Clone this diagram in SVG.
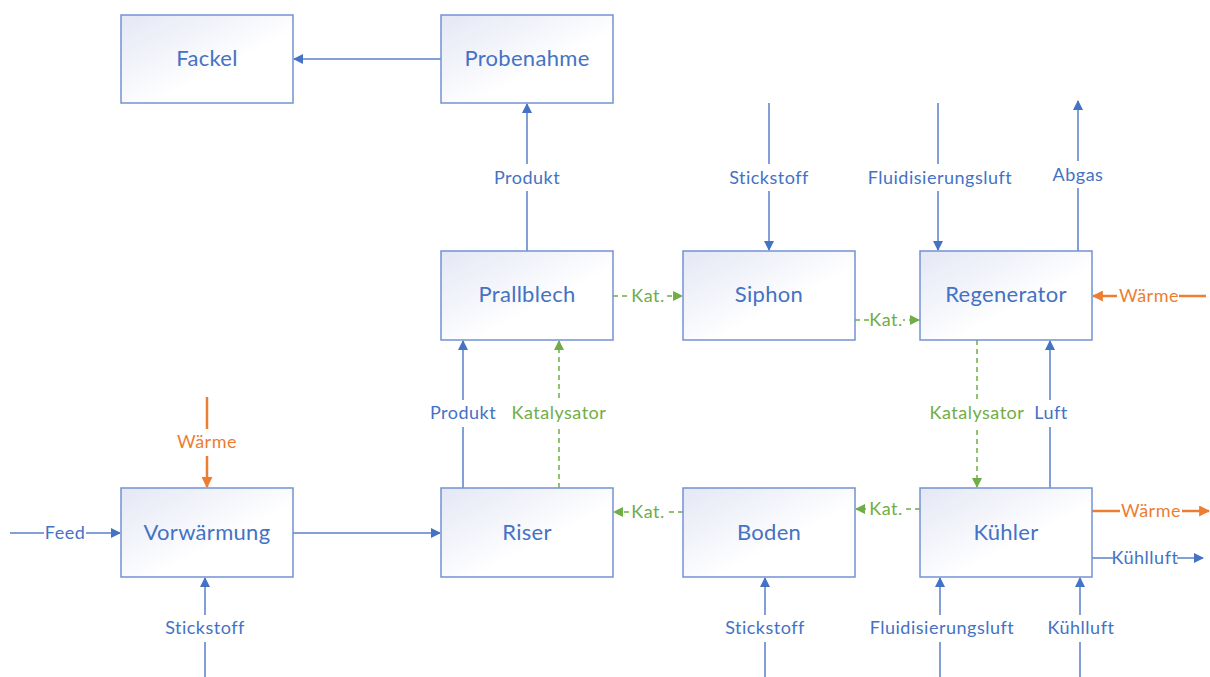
<svg xmlns="http://www.w3.org/2000/svg" width="1210" height="677" viewBox="0 0 1210 677">
  <defs>
    <linearGradient id="boxFill" x1="0" y1="0" x2="1" y2="1">
      <stop offset="0" stop-color="#e4e7f5"/>
      <stop offset="0.6" stop-color="#ffffff"/>
      <stop offset="1" stop-color="#ffffff"/>
    </linearGradient>
    <marker id="arrBlue" viewBox="0 0 10 10" refX="9" refY="5" markerWidth="10" markerHeight="10" markerUnits="userSpaceOnUse" orient="auto">
      <path d="M0,0 L10,5 L0,10 z" fill="#4472c4"/>
    </marker>
    <marker id="arrGreen" viewBox="0 0 10 10" refX="9" refY="5" markerWidth="10" markerHeight="10" markerUnits="userSpaceOnUse" orient="auto">
      <path d="M0,0 L10,5 L0,10 z" fill="#70ad47"/>
    </marker>
    <marker id="arrOrange" viewBox="0 0 10 10" refX="9" refY="5" markerWidth="11" markerHeight="11" markerUnits="userSpaceOnUse" orient="auto">
      <path d="M0,0 L10,5 L0,10 z" fill="#ed7d31"/>
    </marker>
  </defs>
  <style>
    .box { fill: url(#boxFill); stroke: #7393d3; stroke-width: 1.5; }
    .name { font-family: Lato, "Liberation Sans", sans-serif; font-size: 22px; letter-spacing: 0.3px; fill: #4472c4; text-anchor: middle; }
    .blue { stroke: #5a80c8; stroke-width: 1.5; fill: none; marker-end: url(#arrBlue); }
    .green { stroke: #70ad47; stroke-width: 1.5; fill: none; stroke-dasharray: 5 4; marker-end: url(#arrGreen); }
    .orange { stroke: #ed7d31; stroke-width: 2.5; fill: none; marker-end: url(#arrOrange); }
    .lbl { font-family: Lato, "Liberation Sans", sans-serif; font-size: 18px; letter-spacing: 0.5px; text-anchor: middle; }
    .lb { fill: #4472c4; }
    .lg { fill: #70ad47; }
    .lo { fill: #ed7d31; }
    .bg { fill: #ffffff; }
  </style>
  <rect width="1210" height="677" fill="#ffffff"/>

  <!-- connectors with their labels -->
  <g id="connectors">
    <!-- top area -->
    <line class="blue" x1="441" y1="59" x2="294" y2="59"/>
    <line class="blue" x1="527" y1="251" x2="527" y2="104"/>
    <line class="blue" x1="769" y1="103" x2="769" y2="250"/>
    <line class="blue" x1="938" y1="103" x2="938" y2="250"/>
    <line class="blue" x1="1078" y1="251" x2="1078" y2="101"/>
    <line class="green" x1="613" y1="296" x2="682" y2="296"/>
    <line class="green" x1="855" y1="320" x2="919" y2="320"/>
    <line class="orange" x1="1206" y1="296" x2="1093" y2="296"/>

    <!-- middle area -->
    <line class="blue" x1="463" y1="488" x2="463" y2="341"/>
    <line class="green" x1="559" y1="488" x2="559" y2="341"/>
    <line class="green" x1="977" y1="340" x2="977" y2="487"/>
    <line class="blue" x1="1050" y1="488" x2="1050" y2="341"/>
    <line class="orange" x1="207" y1="397" x2="207" y2="487"/>

    <!-- bottom area -->
    <line class="blue" x1="10" y1="533" x2="120" y2="533"/>
    <line class="blue" x1="293" y1="533" x2="440" y2="533"/>
    <line class="blue" x1="205" y1="677" x2="205" y2="578"/>
    <line class="green" x1="683" y1="512" x2="614" y2="512"/>
    <line class="green" x1="920" y1="509" x2="856" y2="509"/>
    <line class="orange" x1="1092" y1="511" x2="1209" y2="511"/>
    <line class="blue" x1="1092" y1="558" x2="1203" y2="558"/>
    <line class="blue" x1="765" y1="677" x2="765" y2="578"/>
    <line class="blue" x1="940" y1="677" x2="940" y2="578"/>
    <line class="blue" x1="1080" y1="677" x2="1080" y2="578"/>

    <!-- label backgrounds -->
    <rect class="bg" x="491" y="164" width="72" height="27"/>
    <rect class="bg" x="727" y="164" width="84" height="27"/>
    <rect class="bg" x="865" y="164" width="150" height="27"/>
    <rect class="bg" x="1050" y="161" width="56" height="27"/>
    <rect class="bg" x="631" y="286" width="34" height="20"/>
    <rect class="bg" x="869" y="310" width="34" height="20"/>
    <rect class="bg" x="1117" y="286" width="62" height="20"/>
    <rect class="bg" x="427" y="400" width="72" height="27"/>
    <rect class="bg" x="509" y="400" width="100" height="27"/>
    <rect class="bg" x="927" y="400" width="100" height="27"/>
    <rect class="bg" x="1033" y="400" width="36" height="27"/>
    <rect class="bg" x="176" y="429" width="62" height="27"/>
    <rect class="bg" x="44" y="523" width="42" height="20"/>
    <rect class="bg" x="631" y="502" width="34" height="20"/>
    <rect class="bg" x="869" y="499" width="34" height="20"/>
    <rect class="bg" x="1120" y="501" width="62" height="20"/>
    <rect class="bg" x="1113" y="548" width="64" height="20"/>
    <rect class="bg" x="163" y="615" width="84" height="27"/>
    <rect class="bg" x="723" y="615" width="84" height="27"/>
    <rect class="bg" x="867" y="615" width="150" height="27"/>
    <rect class="bg" x="1048" y="615" width="66" height="27"/>

    <!-- labels -->
    <text class="lbl lb" x="527" y="184">Produkt</text>
    <text class="lbl lb" x="769" y="184">Stickstoff</text>
    <text class="lbl lb" x="940" y="184">Fluidisierungsluft</text>
    <text class="lbl lb" x="1078" y="181">Abgas</text>
    <text class="lbl lg" x="648" y="302">Kat.</text>
    <text class="lbl lg" x="886" y="326">Kat.</text>
    <text class="lbl lo" x="1149" y="302">Wärme</text>
    <text class="lbl lb" x="463" y="419">Produkt</text>
    <text class="lbl lg" x="559" y="419">Katalysator</text>
    <text class="lbl lg" x="977" y="419">Katalysator</text>
    <text class="lbl lb" x="1051" y="419">Luft</text>
    <text class="lbl lo" x="207" y="448">Wärme</text>
    <text class="lbl lb" x="65" y="539">Feed</text>
    <text class="lbl lg" x="648" y="518">Kat.</text>
    <text class="lbl lg" x="886" y="515">Kat.</text>
    <text class="lbl lo" x="1151" y="517">Wärme</text>
    <text class="lbl lb" x="1145" y="564">Kühlluft</text>
    <text class="lbl lb" x="205" y="634">Stickstoff</text>
    <text class="lbl lb" x="765" y="634">Stickstoff</text>
    <text class="lbl lb" x="942" y="634">Fluidisierungsluft</text>
    <text class="lbl lb" x="1081" y="634">Kühlluft</text>
  </g>

  <!-- process units -->
  <g id="fackel">
    <rect class="box" x="121" y="15" width="172" height="88"/>
    <text class="name" x="207" y="66">Fackel</text>
  </g>
  <g id="probenahme">
    <rect class="box" x="441" y="15" width="172" height="88"/>
    <text class="name" x="527" y="66">Probenahme</text>
  </g>
  <g id="prallblech">
    <rect class="box" x="441" y="251" width="172" height="89"/>
    <text class="name" x="527" y="302">Prallblech</text>
  </g>
  <g id="siphon">
    <rect class="box" x="683" y="251" width="172" height="89"/>
    <text class="name" x="769" y="302">Siphon</text>
  </g>
  <g id="regenerator">
    <rect class="box" x="920" y="251" width="172" height="89"/>
    <text class="name" x="1006" y="302">Regenerator</text>
  </g>
  <g id="vorwaermung">
    <rect class="box" x="121" y="488" width="172" height="89"/>
    <text class="name" x="207" y="540">Vorwärmung</text>
  </g>
  <g id="riser">
    <rect class="box" x="441" y="488" width="172" height="89"/>
    <text class="name" x="527" y="540">Riser</text>
  </g>
  <g id="boden">
    <rect class="box" x="683" y="488" width="172" height="89"/>
    <text class="name" x="769" y="540">Boden</text>
  </g>
  <g id="kuehler">
    <rect class="box" x="920" y="488" width="172" height="89"/>
    <text class="name" x="1006" y="540">Kühler</text>
  </g>
</svg>
